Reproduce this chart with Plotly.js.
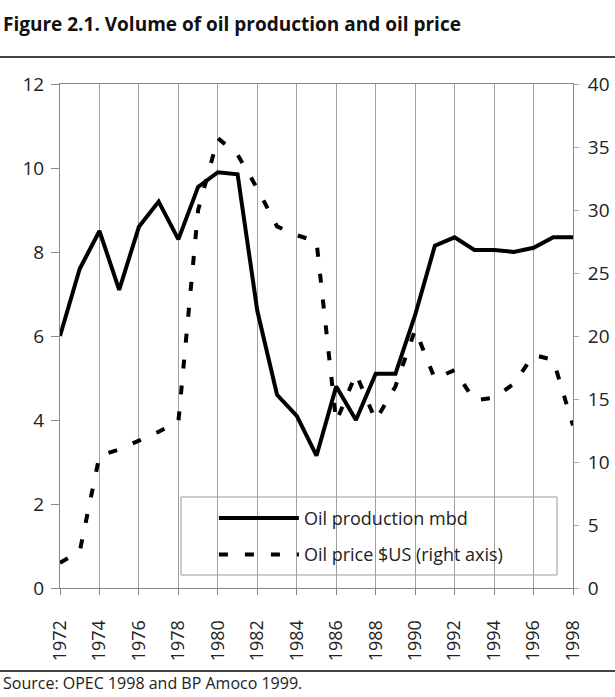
<!DOCTYPE html>
<html>
<head>
<meta charset="utf-8">
<script src="https://cdn.plot.ly/plotly-3.0.1.min.js"></script>
<style>html,body{margin:0;padding:0;background:#fff;}#chart{width:615px;height:697px;}</style>
</head>
<body>
<div id="chart"></div>
<script>
var years = [1972,1973,1974,1975,1976,1977,1978,1979,1980,1981,1982,1983,1984,1985,1986,1987,1988,1989,1990,1991,1992,1993,1994,1995,1996,1997,1998];
var production = [6.0,7.6,8.5,7.1,8.6,9.2,8.3,9.55,9.9,9.85,6.6,4.6,4.1,3.15,4.8,4.0,5.1,5.1,6.5,8.15,8.35,8.05,8.05,8.0,8.1,8.35,8.35];
var price = [2.0,2.9,10.5,11.0,11.7,12.4,13.2,30.0,35.7,34.4,31.7,28.7,28.0,27.5,13.2,17.0,13.3,16.0,20.5,16.6,17.3,14.9,15.1,16.2,18.5,18.1,12.9];
var leftTicks = [0,2,4,6,8,10,12];
var rightTicks = [0,5,10,15,20,25,30,35,40];
var xTicks = [1972,1974,1976,1978,1980,1982,1984,1986,1988,1990,1992,1994,1996,1998];
var titleText = "Figure 2.1. Volume of oil production and oil price";
var sourceText = "Source: OPEC 1998 and BP Amoco 1999.";
var seriesNames = ["Oil production mbd", "Oil price $US (right axis)"];

var FONT = "Open Sans, Noto Sans, sans-serif";
var traces = [
  {x: years, y: production, name: seriesNames[0], type: "scatter", mode: "lines",
   line: {color: "#000", width: 4}, yaxis: "y", legendgroup: "a"},
  {x: years, y: price, name: seriesNames[1], type: "scatter", mode: "lines",
   line: {color: "#000", width: 4, dash: "9px,17px"}, yaxis: "y2", legendgroup: "b"}
];
var layout = {
  width: 615, height: 697,
  margin: {l: 60, r: 42, t: 84, b: 109},
  paper_bgcolor: "#fff", plot_bgcolor: "#fff",
  font: {family: FONT, size: 18, color: "#222"},
  showlegend: true,
  xaxis: {range: [1972, 1998], tickvals: xTicks, ticktext: xTicks.map(String), tickangle: -90,
    showgrid: true, gridcolor: "#a0a0a0", gridwidth: 1, zeroline: false,
    showline: true, linecolor: "#888", linewidth: 1, mirror: true,
    ticks: "outside", ticklen: 6, tickcolor: "#888", ticklabelstandoff: 18,
    tickfont: {family: FONT, size: 18, color: "#222"}},
  yaxis: {range: [0, 12], tickvals: leftTicks, showgrid: false, zeroline: false,
    showline: true, linecolor: "#888", linewidth: 1,
    ticks: "outside", ticklen: 8, tickcolor: "#888", ticklabelstandoff: 3,
    tickfont: {family: FONT, size: 19, color: "#222"}},
  yaxis2: {range: [0, 40], tickvals: rightTicks, overlaying: "y", side: "right",
    showgrid: false, zeroline: false, showline: true, linecolor: "#888", linewidth: 1,
    ticks: "outside", ticklen: 5, tickcolor: "#aaa", ticklabelstandoff: 5,
    tickfont: {family: FONT, size: 19, color: "#222"}},
  legend: {x: 0.30, y: 0.175, xanchor: "left", yanchor: "top",
    bgcolor: "rgba(0,0,0,0)", borderwidth: 0, itemwidth: 80, tracegroupgap: 10,
    font: {family: FONT, size: 18, color: "#222"}},
  shapes: [
    {type: "rect", xref: "paper", yref: "paper", x0: 0.2359, x1: 0.9688, y0: 0.0258, y1: 0.1806,
     fillcolor: "#fff", line: {color: "#999", width: 1}, layer: "between"},
    {type: "line", xref: "paper", yref: "paper", x0: -0.2, x1: 1.2, y0: (588-57)/504, y1: (588-57)/504,
     line: {color: "#444", width: 2}},
    {type: "line", xref: "paper", yref: "paper", x0: -0.2, x1: 1.2, y0: (588-671)/504, y1: (588-671)/504,
     line: {color: "#444", width: 2}}
  ],
  annotations: [
    {text: "<b>" + titleText + "</b>", xref: "paper", yref: "paper", x: 0, y: 1, xanchor: "left", yanchor: "middle",
     xshift: -59, yshift: 60, showarrow: false, font: {family: FONT, size: 19, color: "#111"}},
    {text: sourceText, xref: "paper", yref: "paper", x: 0, y: 0, xanchor: "left", yanchor: "middle",
     xshift: -59, yshift: -95, showarrow: false, font: {family: FONT, size: 16, color: "#222"}}
  ]
};
Plotly.newPlot("chart", traces, layout, {displayModeBar: false, staticPlot: true});
</script>
</body>
</html>
